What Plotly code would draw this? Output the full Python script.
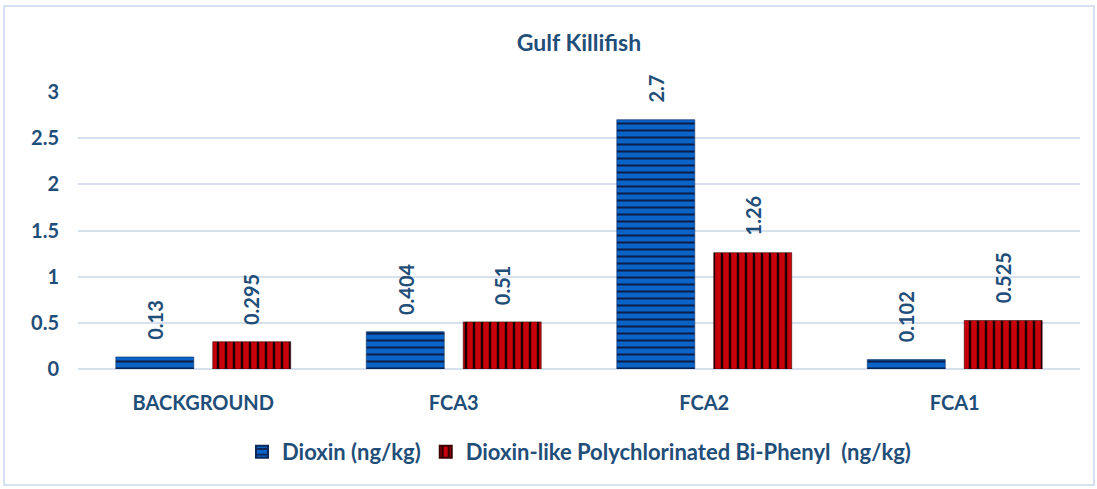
import plotly.graph_objects as go

categories = ["BACKGROUND", "FCA3", "FCA2", "FCA1"]
dioxin = [0.13, 0.404, 2.7, 0.102]
pcb = [0.295, 0.51, 1.26, 0.525]
dioxin_labels = ["0.13", "0.404", "2.7", "0.102"]
pcb_labels = ["0.295", "0.51", "1.26", "0.525"]
series_names = ["Dioxin (ng/kg)", "Dioxin-like Polychlorinated Bi-Phenyl\u00a0 (ng/kg)"]
y_ticks = [0, 0.5, 1, 1.5, 2, 2.5, 3]

TXT = "#1f4e79"
FONT = "Lato"
W, H = 1097, 489
L, R, T, B = 78, 17, 92, 120
PH = H - T - B

fig = go.Figure()
fig.add_trace(go.Bar(
    x=categories, y=dioxin, name="<b>" + series_names[0] + "</b>",
    marker=dict(color="#0a64c8", line=dict(width=0.6, color="#0b2a5a"),
                pattern=dict(shape="-", fgcolor="#0b1f4a", bgcolor="#0a64c8",
                             size=7, solidity=0.3, fillmode="replace")),
))
fig.add_trace(go.Bar(
    x=categories, y=pcb, name="<b>" + series_names[1] + "</b>",
    marker=dict(color="#c00000", line=dict(width=0.6, color="#3a0000"),
                pattern=dict(shape="|", fgcolor="#1a0000", bgcolor="#c8000a",
                             size=8, solidity=0.3, fillmode="replace")),
))

plot_w = W - L - R
cat_w = plot_w / len(categories)
slot = cat_w * (1 - 0.226) / 2
for vals, labs, sign in [(dioxin, dioxin_labels, -1), (pcb, pcb_labels, 1)]:
    for c, v, t in zip(categories, vals, labs):
        fig.add_annotation(x=c, y=v, text="<b>" + t + "</b>", showarrow=False, textangle=-90,
                           xshift=sign * slot / 2, yshift=15, yanchor="bottom",
                           font=dict(family=FONT, size=20, color=TXT))

# chart border
fig.add_shape(type="rect", xref="paper", yref="paper",
              x0=(4 - L) / plot_w, x1=(W - 3 - L) / plot_w,
              y0=(H - B - 485) / PH, y1=(H - B - 6) / PH,
              line=dict(color="#c9d9ee", width=1.5), fillcolor="rgba(0,0,0,0)")

fig.update_layout(
    width=W, height=H,
    margin=dict(l=L, r=R, t=T, b=B, autoexpand=False),
    paper_bgcolor="white", plot_bgcolor="white",
    barmode="group", bargap=0.226, bargroupgap=0.196,
    title=dict(text="<b>Gulf Killifish</b>", x=0.5, xref="paper", xanchor="center",
               y=(H - 43) / H, yanchor="middle",
               font=dict(family=FONT, size=23, color=TXT)),
    font=dict(family=FONT, size=20, color=TXT),
    showlegend=True,
    legend=dict(orientation="h", x=0.5, xanchor="center", xref="paper",
                y=-(452 - (H - B)) / PH, yanchor="middle",
                font=dict(family=FONT, size=22, color=TXT),
                itemsizing="constant", itemwidth=30, traceorder="normal"),
    xaxis=dict(showgrid=False, showline=False, ticks="", automargin=False,
               ticklabelstandoff=20,
               tickfont=dict(family=FONT, size=20, color=TXT, weight="bold")),
    yaxis=dict(range=[0, 3], tickvals=y_ticks, showgrid=True, gridcolor="#d6e0ef",
               gridwidth=1.5, zeroline=True, zerolinecolor="#d6e0ef", zerolinewidth=1.5,
               showline=False, ticks="", ticklabelstandoff=18, automargin=False,
               tickfont=dict(family=FONT, size=20, color=TXT, weight="bold")),
)

fig.write_html("out.html", config={"displayModeBar": False},
               post_script="document.body.style.margin='0';")
